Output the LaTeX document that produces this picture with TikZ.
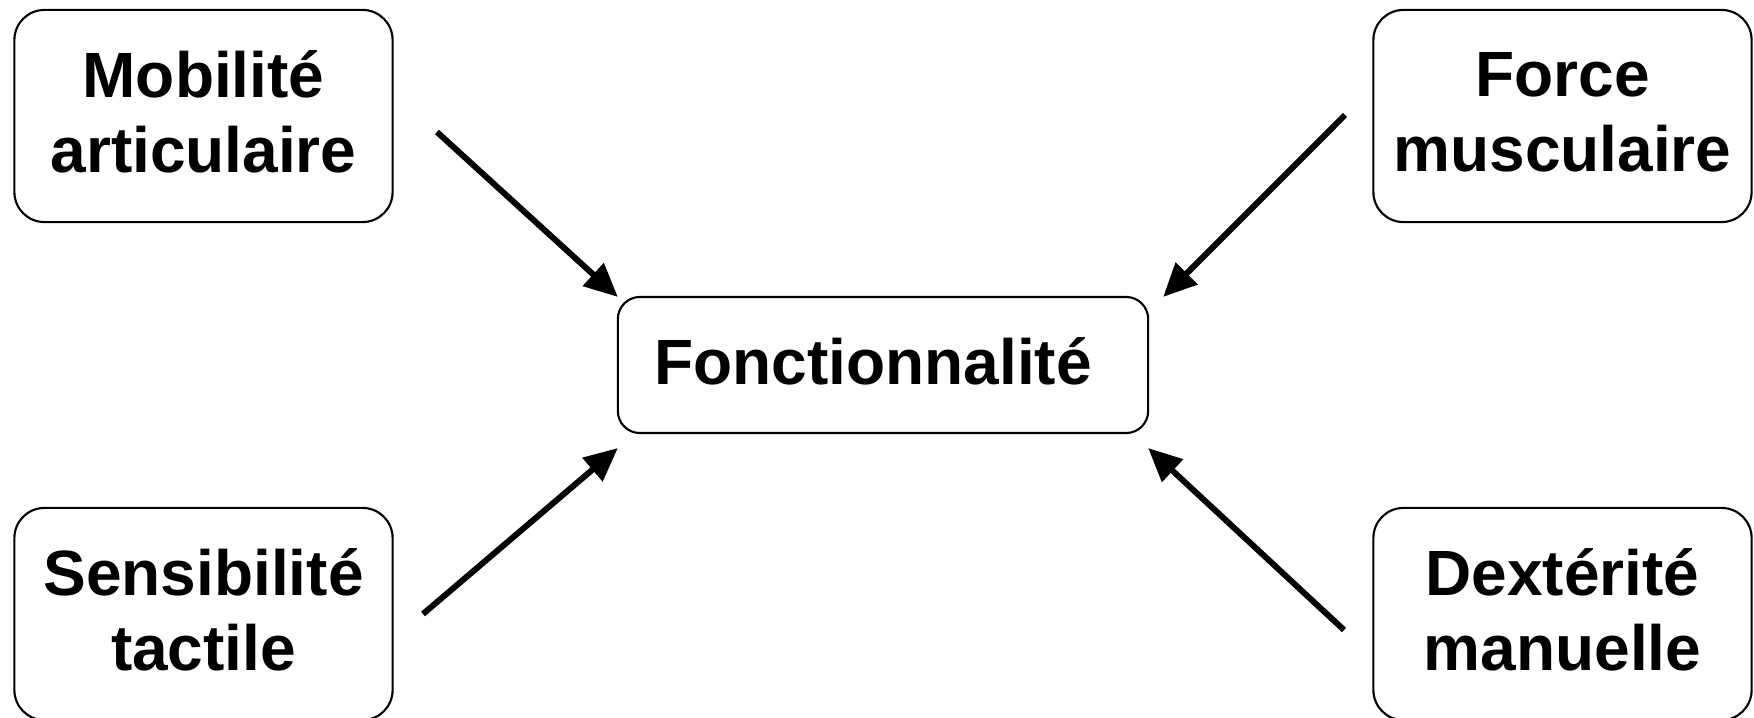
\documentclass[tikz,border=0pt]{standalone}
\usepackage{fontspec}
\setmainfont{Liberation Sans}
\usetikzlibrary{arrows.meta}

\begin{document}
\begin{tikzpicture}[x=0.01cm, y=-0.01cm,
  outerbox/.style={draw, line width=0.6pt, rounded corners=0.3cm,
    minimum width=3.78cm, minimum height=2.12cm, inner sep=0pt, outer sep=0pt},
  centerbox/.style={draw, line width=0.6pt, rounded corners=0.22cm,
    minimum width=5.30cm, minimum height=1.36cm, inner sep=0pt, outer sep=0pt},
  lbl/.style={font=\bfseries\fontsize{18.2pt}{21.4pt}\selectfont,
    align=center, inner sep=0pt},
  link/.style={line width=1.7pt, -{Triangle[length=9.5pt, width=8.5pt]}}]

  \useasboundingbox (0,0) rectangle (1754,718);

  % frames
  \node[outerbox]  (mob) at (203.5,116) {};
  \node[outerbox]  (for) at (1562.5,116) {};
  \node[outerbox]  (sen) at (203.5,614) {};
  \node[outerbox]  (dex) at (1562.5,614) {};
  \node[centerbox] (fon) at (883,365) {};

  % labels
  \node[lbl] (mobT) at (203.5,112) {Mobilité\\articulaire};
  \node[lbl] (forT) at (1562.5,112) {Force\\musculaire};
  \node[lbl] (senT) at (203.5,610) {Sensibilité\\tactile};
  \node[lbl] (dexT) at (1562.5,610) {Dextérité\\manuelle};
  \node[lbl] (fonT) at (873,361.5) {Fonctionnalité};

  % arrow ends
  \coordinate (s1) at (437,132);
  \coordinate (s2) at (1345,115);
  \coordinate (s3) at (423,614);
  \coordinate (s4) at (1344,630);
  \coordinate (t1) at (fon.north west);
  \coordinate (t2) at ([xshift=0.15cm]fon.north east);
  \coordinate (t3) at ([yshift=-0.15cm]fon.south west);
  \coordinate (t4) at ([yshift=-0.15cm]fon.south east);

  % arrows
  \draw[link] (s1) -- (t1);
  \draw[link] (s2) -- (t2);
  \draw[link] (s3) -- (t3);
  \draw[link] (s4) -- (t4);
\end{tikzpicture}
\end{document}
